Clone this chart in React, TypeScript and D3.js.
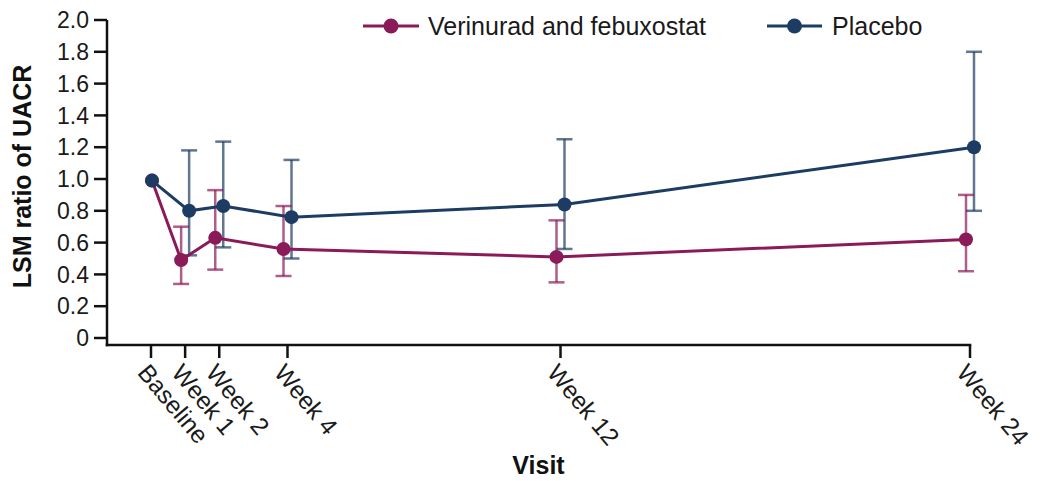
import React from 'react';
import * as d3 from 'd3';

const visits = ['Baseline', 'Week 1', 'Week 2', 'Week 4', 'Week 12', 'Week 24'];
const visitWeeks = [0, 1, 2, 4, 12, 24];
const yTicks = [0, 0.2, 0.4, 0.6, 0.8, 1.0, 1.2, 1.4, 1.6, 1.8, 2.0];

const verinuradMean = [0.99, 0.49, 0.63, 0.56, 0.51, 0.62];
const verinuradLower = [0.99, 0.34, 0.43, 0.39, 0.35, 0.42];
const verinuradUpper = [0.99, 0.70, 0.93, 0.83, 0.74, 0.90];

const placeboMean = [0.99, 0.80, 0.83, 0.76, 0.84, 1.20];
const placeboLower = [0.99, 0.52, 0.57, 0.50, 0.56, 0.80];
const placeboUpper = [0.99, 1.18, 1.235, 1.12, 1.25, 1.80];

const seriesNames = ['Verinurad and febuxostat', 'Placebo'];

const RED = '#8a1a58';
const BLUE = '#1c3c63';

export default function App() {
  const W = 1050, H = 481;
  const x = d3.scaleLinear().domain([0, 24]).range([151, 970]);
  const y = d3.scaleLinear().domain([0, 2]).range([338, 20]);
  const axisY = 345;
  const axisX = 107;
  const font = 'Arial, "Liberation Sans", Helvetica, sans-serif';

  const series = [
    { name: seriesNames[1], color: BLUE, mean: placeboMean, lo: placeboLower, hi: placeboUpper, dodge: 4 },
    { name: seriesNames[0], color: RED, mean: verinuradMean, lo: verinuradLower, hi: verinuradUpper, dodge: -4 },
  ];

  const px = (i: number, d: number) => x(visitWeeks[i]) + (i === 0 ? 1 : d);
  const line = d3.line<number>();

  return (
    <svg width={W} height={H} style={{ position: 'absolute', left: 0, top: 0, background: '#fff' }} fontFamily={font}>
      {/* y axis */}
      <line x1={axisX} x2={axisX} y1={y(2)} y2={axisY + 1.25} stroke="#111" strokeWidth={2.5} />
      {yTicks.map((t) => (
        <g key={t}>
          <line x1={axisX - 13} x2={axisX} y1={y(t)} y2={y(t)} stroke="#111" strokeWidth={2.5} />
          <text x={89} y={y(t)} dy="0.36em" textAnchor="end" fontSize={23} fill="#1a1a1a">
            {t === 0 ? '0' : t.toFixed(1)}
          </text>
        </g>
      ))}
      <text transform={`translate(31,${(y(2) + axisY) / 2 - 6}) rotate(-90)`} textAnchor="middle" fontSize={25} fontWeight="bold" fill="#111">
        LSM ratio of UACR
      </text>

      {/* x axis */}
      <line x1={axisX - 1.25} x2={x(24) + 1.25} y1={axisY} y2={axisY} stroke="#111" strokeWidth={2.5} />
      {visits.map((v, i) => (
        <g key={v}>
          <line x1={x(visitWeeks[i])} x2={x(visitWeeks[i])} y1={axisY} y2={axisY + 13} stroke="#111" strokeWidth={2.5} />
          <text transform={`translate(${x(visitWeeks[i]) - 1},${axisY + 17}) rotate(50)`} dy="0.72em" textAnchor="start" fontSize={24.5} fill="#1a1a1a">
            {v}
          </text>
        </g>
      ))}
      <text x={(axisX + x(24)) / 2} y={474} textAnchor="middle" fontSize={25} fontWeight="bold" fill="#111">
        Visit
      </text>

      {/* error bars */}
      {series.map((s) => (
        <g key={s.name + 'err'} stroke={s.color} strokeOpacity={0.7} strokeWidth={2.5} fill="none">
          {s.mean.map((m, i) => {
            if (i === 0) return null;
            const cx = px(i, s.dodge);
            return (
              <g key={i}>
                <line x1={cx} x2={cx} y1={y(s.lo[i])} y2={y(s.hi[i])} />
                <line x1={cx - 8} x2={cx + 8} y1={y(s.hi[i])} y2={y(s.hi[i])} />
                <line x1={cx - 8} x2={cx + 8} y1={y(s.lo[i])} y2={y(s.lo[i])} />
              </g>
            );
          })}
        </g>
      ))}

      {/* lines and points */}
      {[series[1], series[0]].map((s) => (
        <g key={s.name + 'line'}>
          <path
            d={line(s.mean.map((m, i) => [px(i, s.dodge), y(m)]) as any) || ''}
            fill="none"
            stroke={s.color}
            strokeWidth={3}
          />
        </g>
      ))}
      {[series[1], series[0]].map((s) => (
        <g key={s.name + 'pts'} fill={s.color}>
          {s.mean.map((m, i) => (
            <circle key={i} cx={px(i, s.dodge)} cy={y(m)} r={7} />
          ))}
        </g>
      ))}

      {/* legend */}
      {[
        { s: series[1], x0: 363, x1: 419, tx: 428 },
        { s: series[0], x0: 767, x1: 822, tx: 832 },
      ].map(({ s, x0, x1, tx }) => (
        <g key={s.name + 'leg'}>
          <line x1={x0} x2={x1} y1={26} y2={26} stroke={s.color} strokeWidth={3} />
          <circle cx={(x0 + x1) / 2} cy={26} r={7.5} fill={s.color} />
          <text x={tx} y={26} dy="0.36em" fontSize={25} fill="#1a1a1a">
            {s.name}
          </text>
        </g>
      ))}
    </svg>
  );
}
